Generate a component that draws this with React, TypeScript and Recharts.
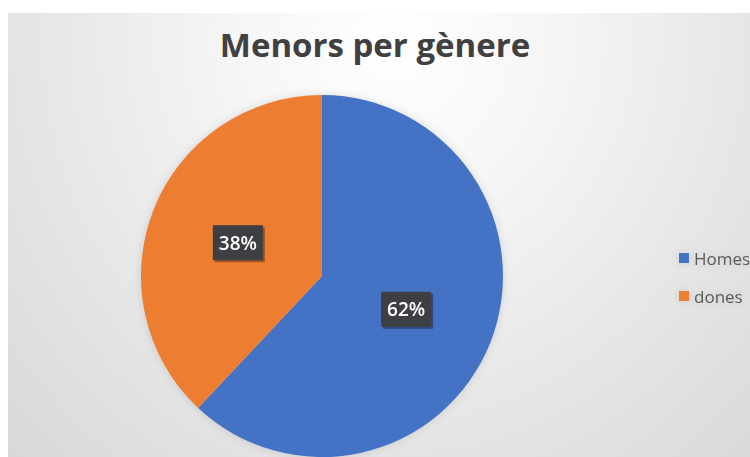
import { PieChart, Pie, Cell, Legend } from 'recharts'

const categories = ['Homes', 'dones']
const values = [62, 38]
const COLORS = ['#4472C4', '#ED7D31']
const TITLE = 'Menors per gènere'

const data = categories.map((name, i) => ({ name, value: values[i] }))

const RAD = Math.PI / 180

function renderLabel(props: any) {
  const { cx, cy, midAngle, outerRadius, percent } = props
  const r = outerRadius * 0.5
  const x = cx + r * Math.cos(-midAngle * RAD)
  const y = cy + r * Math.sin(-midAngle * RAD)
  const w = 50
  const h = 35
  return (
    <g>
      <rect x={x - w / 2 + 2} y={y - h / 2 + 2} width={w} height={h} fill="rgba(0,0,0,0.35)" />
      <rect x={x - w / 2} y={y - h / 2} width={w} height={h} fill="#3d3f42" />
      <text
        x={x}
        y={y}
        fill="#ffffff"
        textAnchor="middle"
        dominantBaseline="central"
        fontFamily="'Open Sans', sans-serif"
        fontWeight={600}
        fontSize={19}
      >
        {`${Math.round(percent * 100)}%`}
      </text>
    </g>
  )
}

function renderLegend() {
  return (
    <div style={{ fontFamily: "'Open Sans', sans-serif", fontSize: 17, color: '#595959' }}>
      {categories.map((name, i) => (
        <div key={name} style={{ display: 'flex', alignItems: 'center', height: 38, whiteSpace: 'nowrap' }}>
          <span style={{ display: 'inline-block', width: 10, height: 10, background: COLORS[i], marginRight: 5 }} />
          <span>{name}</span>
        </div>
      ))}
    </div>
  )
}

export default function App() {
  return (
    <div style={{ position: 'fixed', top: 0, left: 0, width: 750, height: 457, overflow: 'hidden', background: '#ffffff' }}>
      <div
        style={{
          position: 'absolute',
          left: 8,
          top: 13,
          right: 0,
          bottom: 0,
          background: 'radial-gradient(ellipse farthest-corner at 52% 6%, #ffffff 0%, #f6f6f6 28%, #e6e6e6 65%, #d8d8d8 100%)',
        }}
      />
      <div
        style={{
          position: 'absolute',
          left: 0,
          top: 28,
          width: 750,
          textAlign: 'center',
          lineHeight: 1,
          fontFamily: "'Open Sans', sans-serif",
          fontWeight: 700,
          fontSize: 33,
          color: '#404040',
        }}
      >
        {TITLE}
      </div>
      <div style={{ position: 'absolute', left: 0, top: 0, filter: 'drop-shadow(0 0 4px rgba(0,0,0,0.12))' }}>
        <PieChart width={750} height={457} margin={{ top: 0, right: 0, bottom: 0, left: 0 }}>
          <Pie
            data={data}
            dataKey="value"
            nameKey="name"
            cx={322}
            cy={276}
            outerRadius={181}
            startAngle={90}
            endAngle={-270}
            stroke="none"
            labelLine={false}
            label={renderLabel}
            isAnimationActive={false}
          >
            {data.map((entry, index) => (
              <Cell key={`cell-${index}`} fill={COLORS[index % COLORS.length]} />
            ))}
          </Pie>
          <Legend
            layout="vertical"
            align="right"
            verticalAlign="top"
            content={renderLegend}
            wrapperStyle={{ left: 679, top: 239, width: 90 }}
          />
        </PieChart>
      </div>
    </div>
  )
}
